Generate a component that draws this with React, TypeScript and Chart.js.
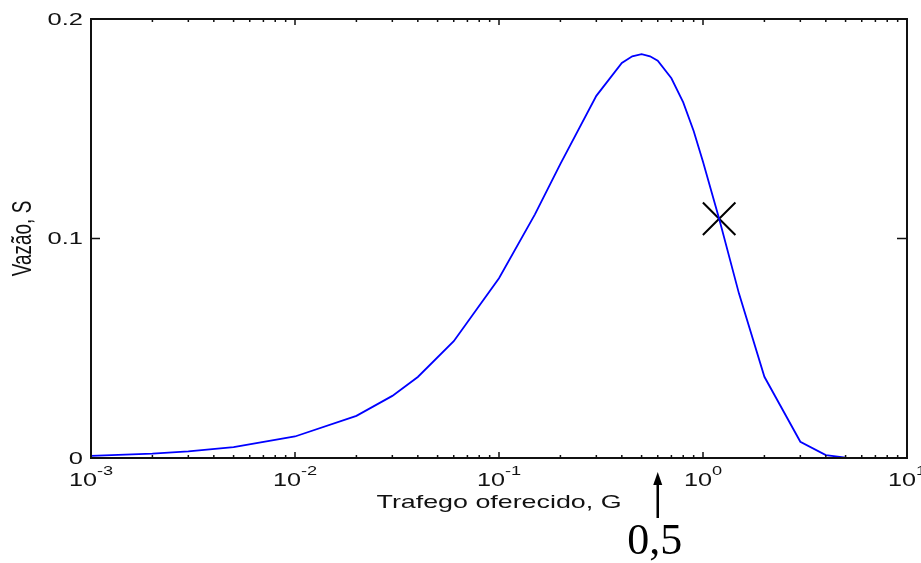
import React, { useEffect, useRef } from "react";
import { Chart, registerables } from "chart.js";

Chart.register(...registerables);

// Offered traffic G (x, log scale) and throughput S (y)
const G_VALUES = [0.001, 0.002, 0.003, 0.005, 0.01, 0.02, 0.03, 0.04, 0.06, 0.1, 0.15, 0.2, 0.3, 0.4, 0.45, 0.5, 0.55, 0.6, 0.7, 0.8, 0.9, 1, 1.2, 1.5, 2, 3, 4, 5];
const S_VALUES = [0.001, 0.002, 0.003, 0.005, 0.0098, 0.0192, 0.0283, 0.0369, 0.0532, 0.0819, 0.111, 0.134, 0.165, 0.18, 0.183, 0.184, 0.183, 0.181, 0.173, 0.162, 0.149, 0.135, 0.109, 0.075, 0.037, 0.0074, 0.0013, 0.0002];

// Cross marker
const MARK_G = [1.2];
const MARK_S = [0.109];

// Axes
const X_MIN = 0.001;
const X_MAX = 10;
const Y_MIN = 0;
const Y_MAX = 0.2;
const X_MAJOR = [0.001, 0.01, 0.1, 1, 10];
const X_EXP = ["-3", "-2", "-1", "0", "1"];
const Y_TICKS = [0, 0.1, 0.2];
const Y_LABELS = ["0", "0.1", "0.2"];
const X_TITLE = "Trafego oferecido, G";
const Y_TITLE = "Vazão, S";

// Arrow annotation
const ARROW_G = 0.6;
const ARROW_LABEL = "0,5";

const SANS = "'Liberation Sans', Arial, sans-serif";
const SERIF = "'Liberation Serif', 'Times New Roman', serif";
const STRETCH = 1.45;

function stretchedText(
  ctx: CanvasRenderingContext2D,
  text: string,
  x: number,
  y: number,
  font: string,
  sx: number,
  align: CanvasTextAlign,
  baseline: CanvasTextBaseline
) {
  ctx.save();
  ctx.translate(x, y);
  ctx.scale(sx, 1);
  ctx.font = font;
  ctx.textAlign = align;
  ctx.textBaseline = baseline;
  ctx.fillText(text, 0, 0);
  ctx.restore();
}

const matlabAxes = {
  id: "matlabAxes",
  afterDraw(chart: any) {
    const { ctx, chartArea: a } = chart;
    const xs = chart.scales.x;
    const ys = chart.scales.y;
    ctx.save();
    ctx.strokeStyle = "#111";
    ctx.fillStyle = "#111";

    // box
    ctx.lineWidth = 2;
    ctx.strokeRect(a.left, a.top, a.right - a.left, a.bottom - a.top);

    // x ticks (major + minor), bottom and top, pointing inward
    ctx.lineWidth = 1.5;
    ctx.beginPath();
    X_MAJOR.forEach((v, i) => {
      const px = xs.getPixelForValue(v);
      ctx.moveTo(px, a.bottom);
      ctx.lineTo(px, a.bottom - 6);
      ctx.moveTo(px, a.top);
      ctx.lineTo(px, a.top + 6);
      if (i < X_MAJOR.length - 1) {
        for (let k = 2; k <= 9; k++) {
          const mx = xs.getPixelForValue(v * k);
          ctx.moveTo(mx, a.bottom);
          ctx.lineTo(mx, a.bottom - 3);
          ctx.moveTo(mx, a.top);
          ctx.lineTo(mx, a.top + 3);
        }
      }
    });
    // y ticks left and right
    Y_TICKS.forEach((v) => {
      const py = ys.getPixelForValue(v);
      ctx.moveTo(a.left, py);
      ctx.lineTo(a.left + 9, py);
      ctx.moveTo(a.right, py);
      ctx.lineTo(a.right - 10, py);
    });
    ctx.stroke();

    // x tick labels 10^n
    const bigFont = `18px ${SANS}`;
    const supFont = `13px ${SANS}`;
    X_MAJOR.forEach((v, i) => {
      const px = xs.getPixelForValue(v);
      ctx.font = bigFont;
      const wBase = ctx.measureText("10").width * 1.4;
      ctx.font = supFont;
      const wSup = ctx.measureText(X_EXP[i]).width * 1.4;
      const start = px - (wBase + wSup) / 2;
      stretchedText(ctx, "10", start, a.bottom + 28, bigFont, 1.4, "left", "alphabetic");
      stretchedText(ctx, X_EXP[i], start + wBase, a.bottom + 17, supFont, 1.4, "left", "alphabetic");
    });

    // y tick labels
    Y_TICKS.forEach((v, i) => {
      const py = ys.getPixelForValue(v);
      stretchedText(ctx, Y_LABELS[i], a.left - 8, py + 1, `17px ${SANS}`, 1.5, "right", "middle");
    });

    // x title
    stretchedText(ctx, X_TITLE, (a.left + a.right) / 2, a.bottom + 50, `18.5px ${SANS}`, STRETCH, "center", "alphabetic");

    // y title (rotated; the horizontal stretch widens glyph height)
    ctx.save();
    ctx.translate(31, (a.top + a.bottom) / 2);
    ctx.rotate(-Math.PI / 2);
    ctx.scale(1, STRETCH);
    ctx.font = `19px ${SANS}`;
    ctx.textAlign = "center";
    ctx.textBaseline = "alphabetic";
    ctx.fillText(Y_TITLE, 0, 0);
    ctx.restore();

    // arrow + label
    const ax = xs.getPixelForValue(ARROW_G);
    ctx.fillStyle = "#000";
    ctx.strokeStyle = "#000";
    ctx.lineWidth = 2.5;
    ctx.beginPath();
    ctx.moveTo(ax, a.bottom + 60);
    ctx.lineTo(ax, a.bottom + 24);
    ctx.stroke();
    ctx.beginPath();
    ctx.moveTo(ax, a.bottom + 14);
    ctx.lineTo(ax - 4.5, a.bottom + 27);
    ctx.lineTo(ax + 4.5, a.bottom + 27);
    ctx.closePath();
    ctx.fill();
    ctx.font = `44px ${SERIF}`;
    ctx.textAlign = "center";
    ctx.textBaseline = "alphabetic";
    ctx.fillText(ARROW_LABEL, ax - 3, a.bottom + 96);

    ctx.restore();
  },
};

export default function App() {
  const canvasRef = useRef<HTMLCanvasElement | null>(null);

  useEffect(() => {
    const canvas = canvasRef.current;
    if (!canvas) return;
    const curve = G_VALUES.map((g, i) => ({ x: g, y: S_VALUES[i] }));
    const mark = MARK_G.map((g, i) => ({ x: g, y: MARK_S[i] }));
    const chart = new Chart(canvas, {
      type: "scatter",
      data: {
        datasets: [
          {
            data: curve,
            showLine: true,
            borderColor: "#0000ff",
            borderWidth: 1.8,
            pointRadius: 0,
            fill: false,
            tension: 0,
          },
          {
            data: mark,
            showLine: false,
            pointStyle: "crossRot",
            pointRadius: 23,
            borderColor: "#000",
            pointBorderColor: "#000",
            pointBorderWidth: 2,
            borderWidth: 2,
            clip: false,
          } as any,
        ],
      },
      options: {
        responsive: false,
        animation: false,
        devicePixelRatio: 1,
        layout: { autoPadding: false, padding: { left: 91, top: 19, right: 14, bottom: 105 } },
        plugins: { legend: { display: false }, tooltip: { enabled: false }, title: { display: false } },
        scales: {
          x: { type: "logarithmic", min: X_MIN, max: X_MAX, display: false },
          y: { type: "linear", min: Y_MIN, max: Y_MAX, display: false },
        },
      },
      plugins: [matlabAxes],
    });
    return () => chart.destroy();
  }, []);

  return (
    <div style={{ position: "fixed", left: 0, top: 0, width: 921, height: 563, background: "#fff" }}>
      <canvas ref={canvasRef} width={921} height={563} style={{ display: "block" }} />
    </div>
  );
}
